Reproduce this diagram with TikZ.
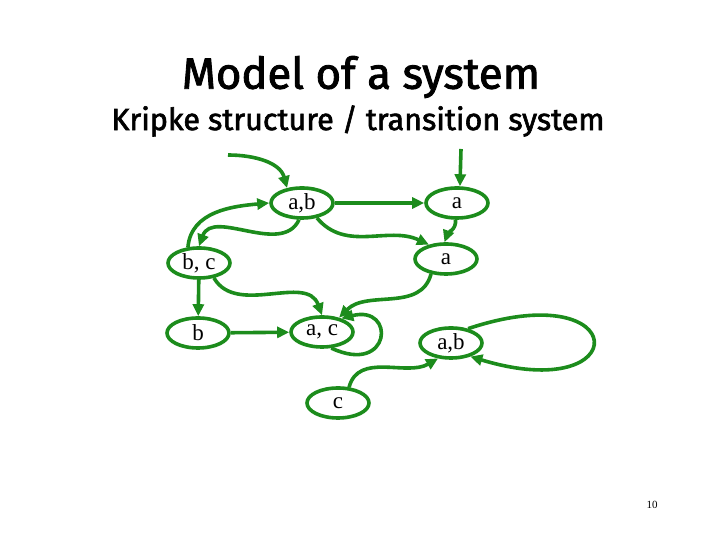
\documentclass[tikz,border=0pt]{standalone}
\usepackage{fontspec}
\setmainfont{Liberation Serif}
\newfontfamily\titlefont[FakeBold=2]{Fira Sans}
\usetikzlibrary{arrows.meta,shapes.geometric}
\definecolor{kgreen}{RGB}{28,140,28}
\tikzset{
  state/.style={ellipse,draw=kgreen,line width=3.6pt,minimum width=62pt,minimum height=30pt,inner sep=0pt,font=\fontsize{23}{25}\selectfont},
  edge/.style={draw=kgreen,line width=3.6pt,-{Triangle[length=12pt,width=11pt]}},
}
\begin{document}
\begin{tikzpicture}[x=1pt,y=1pt]
\useasboundingbox (0,0) rectangle (720,540);
% titles
\node (title) at (361,463) {\resizebox{358pt}{!}{\titlefont\fontsize{36}{40}\selectfont Model of a system}};
\node (subtitle) at (358,419) {\resizebox{493pt}{!}{\titlefont\fontsize{24}{28}\selectfont Kripke structure / transition system}};
% states
\node[state] (ab1) at (302,337) {a,b};
\node[state] (a1)  at (457,337) {a};
\node[state] (a2)  at (446,281) {a};
\node[state] (bc)  at (199,277) {b, c};
\node[state] (b)   at (198,207) {b};
\node[state] (ac)  at (322,208) {a, c};
\node[state] (ab2) at (451,197) {a,b};
\node[state] (c)   at (338,137) {c};
% initial arrows
\coordinate (i1) at (228,385);
\coordinate (i2) at (461,391);
\draw[edge] (i1) to[out=0,in=105] (ab1.135);
\draw[edge] (i2) -- (a1.80);
% transitions
\draw[edge] (ab1) -- (a1);
\draw[edge] (ab1.-45) to[out=-50,in=155] (a2.140);
\draw[edge] (a1.-95) to[out=-85,in=70] (a2.95);
\draw[edge] (ab1.-100) to[out=-115,in=70] (bc.90);
\draw[edge] (bc.125) to[out=85,in=185] (ab1.west);
\draw[edge] (bc) -- (b);
\draw[edge] (bc.-45) to[out=-60,in=110] (ac.north);
\draw[edge] (a2.-135) to[out=-105,in=45] (ac.40);
\draw[edge] (b) -- (ac);
\draw[edge] (ac.-60) .. controls +(60,-28) and +(55,14) .. (ac.35);
\draw[edge] (c.55) to[out=75,in=-150] (ab2.-130);
\draw[edge] (ab2.40) .. controls +(165,55) and +(165,-50) .. (ab2.-35);
% page number
\node[font=\fontsize{11}{13}\selectfont] (pnum) at (652,35) {10};
\end{tikzpicture}
\end{document}
